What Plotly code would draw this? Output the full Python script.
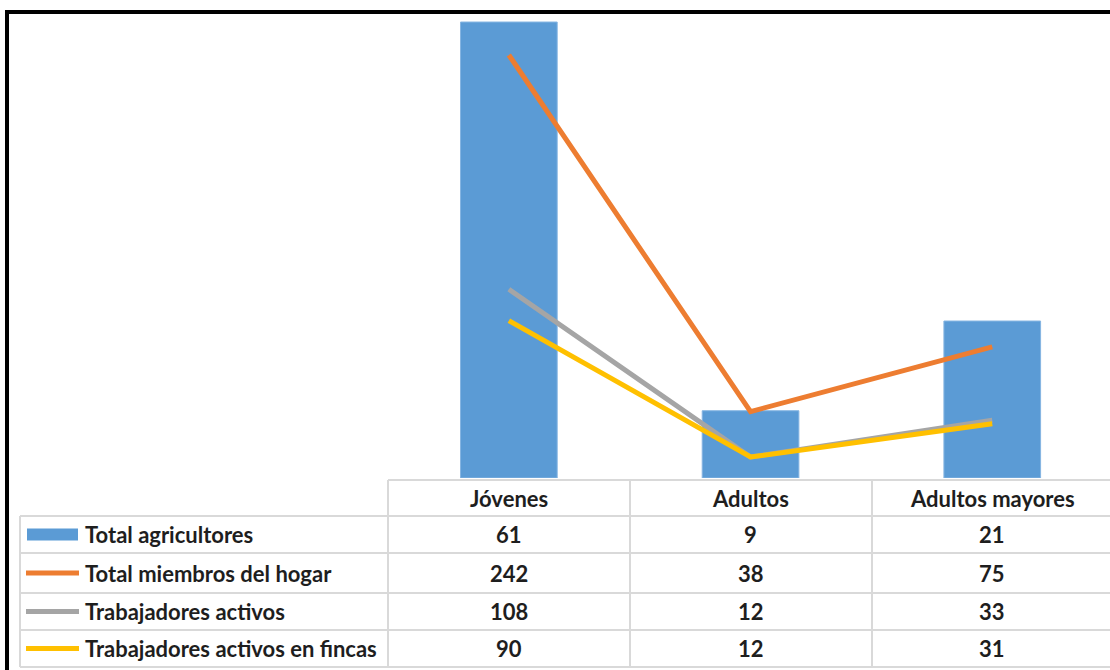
import plotly.graph_objects as go

# --- data ---------------------------------------------------------------
categories = ["Jóvenes", "Adultos", "Adultos mayores"]
total_agricultores = [61, 9, 21]
total_miembros_hogar = [242, 38, 75]
trabajadores_activos = [108, 12, 33]
trabajadores_activos_fincas = [90, 12, 31]

series_names = [
    "Total agricultores",
    "Total miembros del hogar",
    "Trabajadores activos",
    "Trabajadores activos en fincas",
]
series_values = [
    total_agricultores,
    total_miembros_hogar,
    trabajadores_activos,
    trabajadores_activos_fincas,
]
series_colors = ["#5B9BD5", "#ED7D31", "#A5A5A5", "#FFC000"]

# --- geometry helpers (pixel -> paper) ----------------------------------
W, H = 1110, 670


def px(x):
    return x / W


def py(y):
    return 1 - y / H


FONT = "Lato, Roboto, sans-serif"
FONT_SIZE = 22
TEXT_COLOR = "#1E1E1E"
GRID = "#D9D9D9"
LINE_W = 5

fig = go.Figure()

fig.add_trace(go.Bar(
    x=categories, y=total_agricultores, name=series_names[0],
    marker=dict(color=series_colors[0], line=dict(color="#86B5E2", width=1)),
    yaxis="y", showlegend=False,
))
for name, vals, col in zip(series_names[1:], series_values[1:], series_colors[1:]):
    fig.add_trace(go.Scatter(
        x=categories, y=vals, name=name, mode="lines",
        line=dict(color=col, width=LINE_W), yaxis="y2", showlegend=False,
    ))

# --- data table under the plot -----------------------------------------
col_edges = [388, 630, 872, 1114]
row_edges = [480, 516, 553, 593, 630, 667]
shapes = []

# horizontal rules
shapes.append(dict(type="line", xref="paper", yref="paper",
                   x0=px(388), x1=1.02, y0=py(row_edges[0]), y1=py(row_edges[0]),
                   line=dict(color=GRID, width=2)))
for y in row_edges[1:]:
    shapes.append(dict(type="line", xref="paper", yref="paper",
                       x0=px(20), x1=1.02, y0=py(y), y1=py(y),
                       line=dict(color=GRID, width=2)))
# vertical rules
shapes.append(dict(type="line", xref="paper", yref="paper",
                   x0=px(20), x1=px(20), y0=py(row_edges[1]), y1=py(row_edges[-1]),
                   line=dict(color=GRID, width=2)))
for x in col_edges[:3]:
    shapes.append(dict(type="line", xref="paper", yref="paper",
                       x0=px(x), x1=px(x), y0=py(row_edges[0]), y1=py(row_edges[-1]),
                       line=dict(color=GRID, width=2)))

text_font = dict(family=FONT, size=FONT_SIZE, color=TEXT_COLOR, weight="bold")
annotations = []
# column headers
hdr_y = (row_edges[0] + row_edges[1]) / 2
for cat in categories:
    annotations.append(dict(x=cat, xref="x", y=py(hdr_y), yref="paper",
                            text=cat, showarrow=False, xanchor="center", yanchor="middle",
                            font=text_font))

for i, (name, vals, col) in enumerate(zip(series_names, series_values, series_colors)):
    yc = (row_edges[i + 1] + row_edges[i + 2]) / 2
    # legend key
    if i == 0:
        shapes.append(dict(type="rect", xref="paper", yref="paper",
                           x0=px(27), x1=px(78), y0=py(yc + 6), y1=py(yc - 6),
                           fillcolor=col, line=dict(width=0)))
    else:
        shapes.append(dict(type="line", xref="paper", yref="paper",
                           x0=px(26), x1=px(79), y0=py(yc), y1=py(yc),
                           line=dict(color=col, width=LINE_W)))
    annotations.append(dict(x=px(83), xref="paper", y=py(yc), yref="paper",
                            text=name, showarrow=False, xanchor="left", yanchor="middle",
                            font=text_font))
    for cat, v in zip(categories, vals):
        annotations.append(dict(x=cat, xref="x", y=py(yc), yref="paper",
                                text=str(v), showarrow=False, xanchor="center", yanchor="middle",
                                font=text_font))

# outer frame
shapes.append(dict(type="rect", xref="paper", yref="paper",
                   x0=px(7), y0=py(12), x1=1.05, y1=-0.05,
                   line=dict(color="black", width=4), fillcolor="rgba(0,0,0,0)"))

cat_px = 241.7
x_span = (W - 388) / cat_px
fig.update_layout(
    width=W, height=H,
    margin=dict(l=0, r=0, t=0, b=0),
    paper_bgcolor="white", plot_bgcolor="white",
    bargap=0.6,
    xaxis=dict(domain=[px(388), 1], range=[-0.5, -0.5 + x_span],
               visible=False, type="category"),
    yaxis=dict(domain=[py(478), py(14)], range=[0, 464 / 7.475], visible=False),
    yaxis2=dict(domain=[py(478), py(14)], range=[0, 464 / 1.748], visible=False,
                overlaying="y", side="right"),
    shapes=shapes,
    annotations=annotations,
)

fig.write_html("out.html")
